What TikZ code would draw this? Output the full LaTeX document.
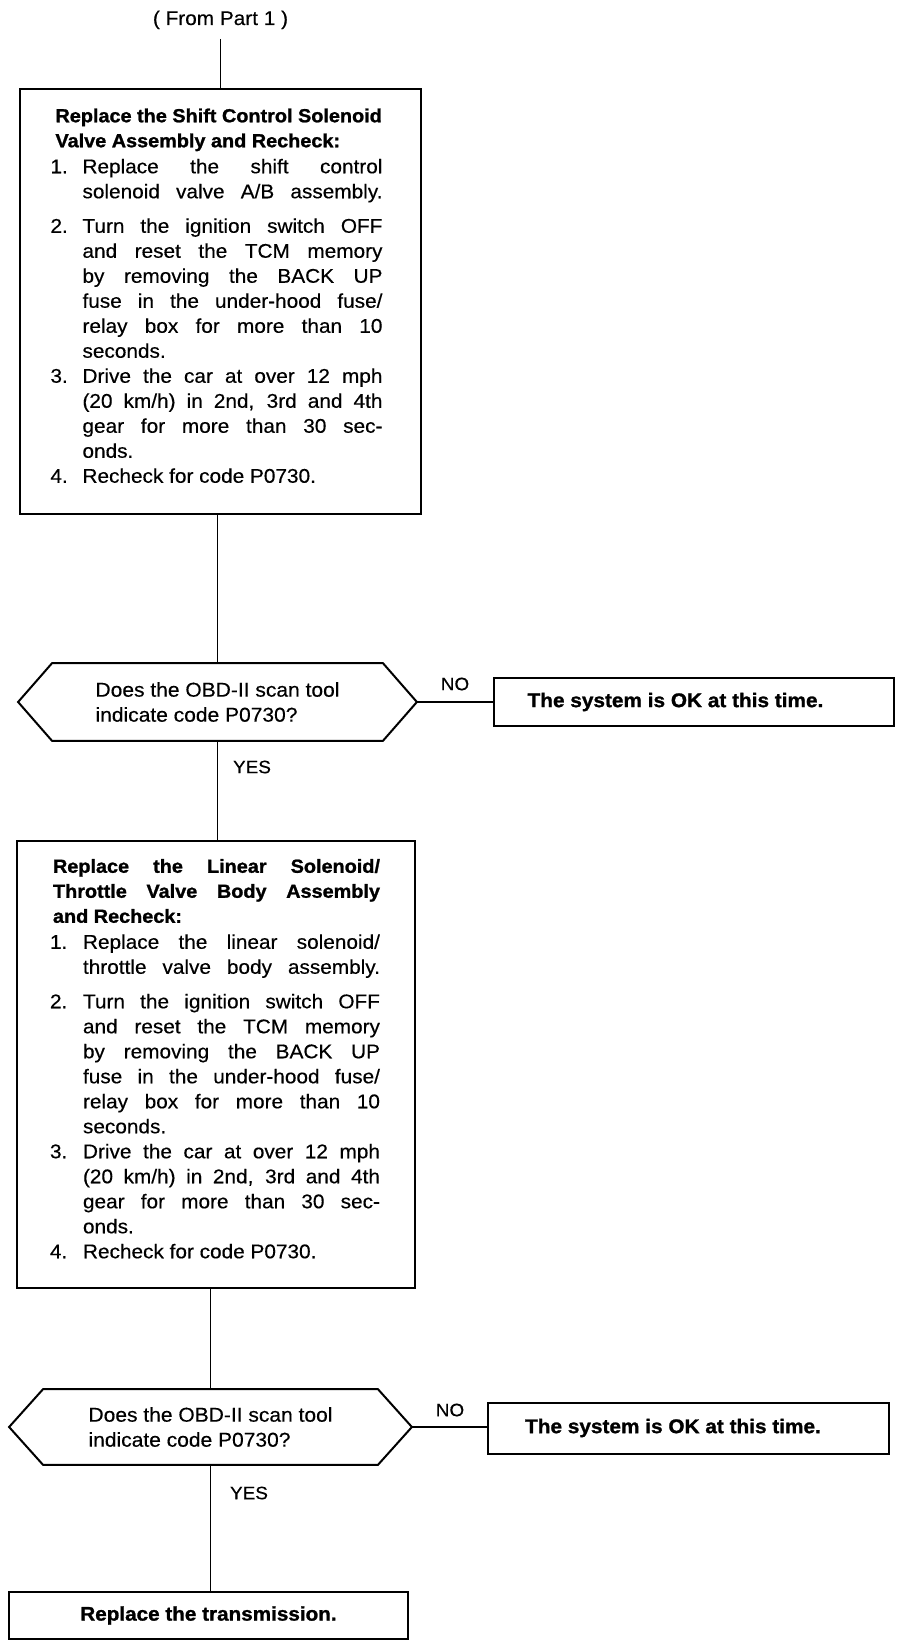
\documentclass[tikz,border=0pt]{standalone}
\usepackage{fontspec}
\setmainfont{Liberation Sans}[FakeStretch=1.05, UprightFeatures={FakeBold=0.4}, BoldFeatures={FakeBold=1.2}]
\newlength\jlw
\newcommand\jl[1]{\makebox[\jlw][s]{#1}}
\newcommand\titlef{\bfseries\fontsize{18.9}{25}\selectfont}
\newcommand\hexof[1]{\draw[hexline] (#1.west) -- ([xshift=34pt]#1.north west) -- ([xshift=-34pt]#1.north east) -- (#1.east) -- ([xshift=-34pt]#1.south east) -- ([xshift=34pt]#1.south west) -- cycle;}
\begin{document}
\begin{tikzpicture}[x=1pt,y=-1pt,
  line width=1.8pt,
  base/.style={font=\fontsize{19.8}{25}\selectfont},
  stepbox/.style={draw, rectangle, line width=2pt, inner sep=0pt, base},
  decision/.style={rectangle, inner sep=0pt, align=left, font=\fontsize{20}{25}\selectfont},
  hexline/.style={line width=2pt, line join=miter},
  okbox/.style={draw, rectangle, line width=2pt, inner sep=0pt, minimum width=400pt, minimum height=48pt,
     font=\bfseries\fontsize{19.8}{25}\selectfont},
  lbl/.style={font=\fontsize{18}{25}\selectfont, inner sep=0pt}
]
\useasboundingbox (0,0) rectangle (912,1646);

\node[lbl, font=\fontsize{19.8}{25}\selectfont, anchor=base, inner ysep=9pt] (from) at (220.5,25) {( From Part 1 )};

\node[stepbox, minimum width=401pt, minimum height=425pt] (b1) at (220.5,301.5) {\setlength\jlw{300pt}%
\begin{tabular}{@{}p{32pt}@{}l@{\hspace{8pt}}}
\multicolumn{2}{@{}l@{}}{\hspace*{5pt}\titlef Replace the Shift Control Solenoid}\\
\multicolumn{2}{@{}l@{}}{\hspace*{5pt}\titlef Valve Assembly and Recheck:}\\[1pt]
1. & \jl{Replace the shift control}\\
 & \jl{solenoid valve A/B assembly.}\\[9.5pt]
2. & \jl{Turn the ignition switch OFF}\\
 & \jl{and reset the TCM memory}\\
 & \jl{by removing the BACK UP}\\
 & \jl{fuse in the under-hood fuse/}\\
 & \jl{relay box for more than 10}\\
 & seconds.\\
3. & \jl{Drive the car at over 12 mph}\\
 & \jl{(20 km/h) in 2nd, 3rd and 4th}\\
 & \jl{gear for more than 30 sec-}\\
 & onds.\\
4. & Recheck for code P0730.\\[8pt]
\end{tabular}};

\node[decision, minimum width=397pt, minimum height=76pt] (d1) at (217.5,702)
  {Does the OBD-II scan tool\\indicate code P0730?};
\hexof{d1}
\node[okbox] (n1) at (694,702) {The system is OK at this time.\hspace*{37pt}};
\node[lbl] (no1) at (455,684) {NO};
\node[lbl] (yes1) at (252,767) {YES};

\node[stepbox, minimum width=398pt, minimum height=447pt] (b2) at (216,1064.5) {\setlength\jlw{297pt}%
\begin{tabular}{@{}p{33pt}@{}l@{\hspace{2pt}}}
\multicolumn{2}{@{}l@{}}{\hspace*{3pt}\titlef\setlength\jlw{327pt}\jl{Replace the Linear Solenoid/}}\\
\multicolumn{2}{@{}l@{}}{\hspace*{3pt}\titlef\setlength\jlw{327pt}\jl{Throttle Valve Body Assembly}}\\
\multicolumn{2}{@{}l@{}}{\hspace*{3pt}\titlef and Recheck:}\\[1pt]
1. & \jl{Replace the linear solenoid/}\\
 & \jl{throttle valve body assembly.}\\[9.5pt]
2. & \jl{Turn the ignition switch OFF}\\
 & \jl{and reset the TCM memory}\\
 & \jl{by removing the BACK UP}\\
 & \jl{fuse in the under-hood fuse/}\\
 & \jl{relay box for more than 10}\\
 & seconds.\\
3. & \jl{Drive the car at over 12 mph}\\
 & \jl{(20 km/h) in 2nd, 3rd and 4th}\\
 & \jl{gear for more than 30 sec-}\\
 & onds.\\
4. & Recheck for code P0730.\\[8pt]
\end{tabular}};

\node[decision, minimum width=401pt, minimum height=74pt] (d2) at (210.5,1427)
  {Does the OBD-II scan tool\\indicate code P0730?};
\hexof{d2}
\node[okbox, minimum width=401pt, minimum height=51pt] (n2) at (688.5,1428) {The system is OK at this time.\hspace*{31pt}};
\node[lbl] (no2) at (450,1410) {NO};
\node[lbl] (yes2) at (249,1493) {YES};

\node[stepbox, font=\bfseries\fontsize{19.7}{25}\selectfont, minimum width=399pt, minimum height=47pt] (f) at (208.5,1615.5) {Replace the transmission.};

\draw (from.south) -- (b1.north);
\draw (b1.south -| d1.north) -- (d1.north);
\draw (d1.east) -- (d1.east -| n1.west);
\draw (d1.south) -- (d1.south |- b2.north);
\draw (b2.south -| d2.north) -- (d2.north);
\draw (d2.east) -- (d2.east -| n2.west);
\draw (d2.south) -- (d2.south |- f.north);
\end{tikzpicture}
\end{document}
